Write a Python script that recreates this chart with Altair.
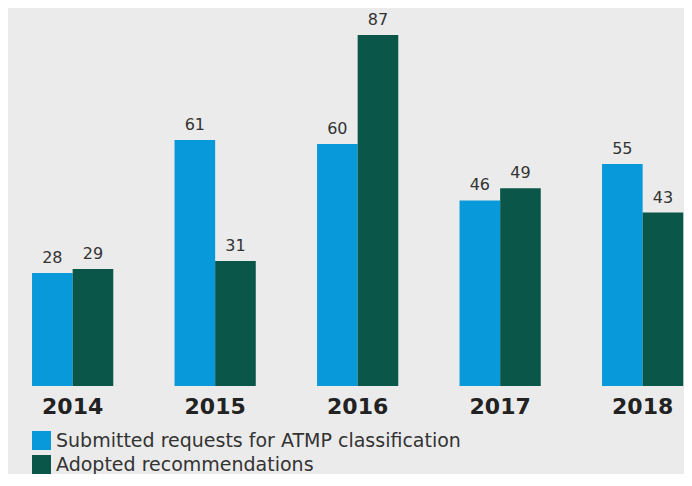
import altair as alt
import pandas as pd

years = ["2014", "2015", "2016", "2017", "2018"]
submitted = [28, 61, 60, 46, 55]
adopted = [29, 31, 87, 49, 43]
series = ["Submitted requests for ATMP classification", "Adopted recommendations"]
colors = ["#0799d9", "#0a5649"]

rows = []
for i, y in enumerate(years):
    rows.append({"year": y, "series": series[0], "value": submitted[i]})
    rows.append({"year": y, "series": series[1], "value": adopted[i]})
df = pd.DataFrame(rows)

FONT = "DejaVu Sans"

x = alt.X("year:N", title=None,
          scale=alt.Scale(paddingInner=0.43, paddingOuter=0.087, align=0.97),
          axis=alt.Axis(labelAngle=0, labelFontSize=22, labelFontWeight="bold",
                        labelColor="#222222", labelFont=FONT, domain=False,
                        ticks=False, tickSize=0, labelPadding=10, grid=False))
xo = alt.XOffset("series:N", sort=series, scale=alt.Scale(paddingInner=0, paddingOuter=0))
y = alt.Y("value:Q", title=None, scale=alt.Scale(domain=[0, 93.7], nice=False, zero=True),
          axis=None)

bars = alt.Chart(df).mark_bar().encode(
    x=x, xOffset=xo, y=y,
    color=alt.Color("series:N", sort=series,
                    scale=alt.Scale(domain=series, range=colors),
                    legend=alt.Legend(title=None, orient="none", legendX=24, legendY=423,
                                      direction="vertical", symbolType="square",
                                      symbolSize=361, symbolStrokeWidth=0,
                                      symbolOpacity=1, labelFontSize=19,
                                      labelFont=FONT, labelColor="#333333",
                                      labelLimit=600, rowPadding=4, padding=0,
                                      labelOffset=5)),
)

labels = alt.Chart(df).mark_text(dy=-10, baseline="alphabetic", fontSize=16,
                                 font=FONT, color="#333333").encode(
    x=x, xOffset=xo, y=y, text="value:Q"
)

chart = alt.layer(bars, labels).properties(
    width=676, height=378,
    background="#ebebeb",
    autosize=alt.AutoSizeParams(type="none"),
    padding={"left": 0, "right": 0, "top": 0, "bottom": 88},
).configure_view(stroke=None)

chart.save("out.html", embed_options={"renderer": "svg", "actions": False})
